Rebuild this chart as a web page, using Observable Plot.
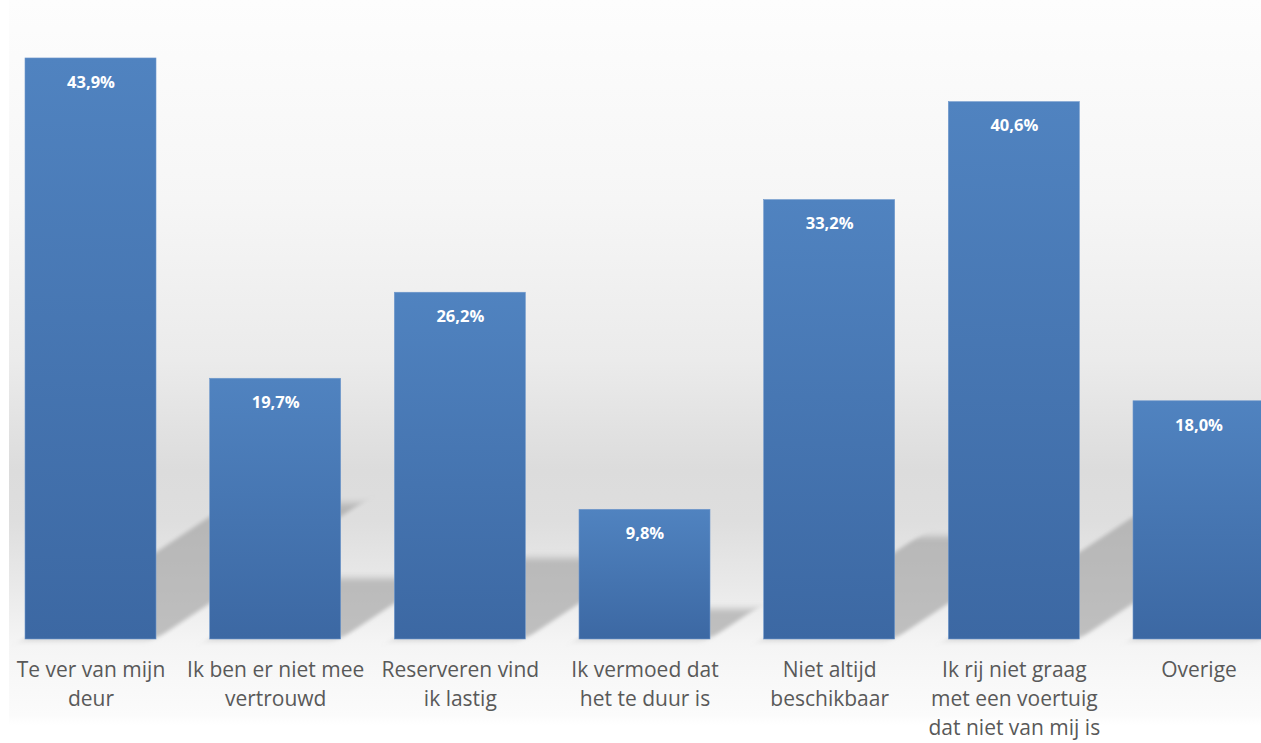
<!DOCTYPE html>
<html>
<head>
<meta charset="utf-8">
<script src="https://cdn.jsdelivr.net/npm/d3@7"></script>
<script src="https://cdn.jsdelivr.net/npm/@observablehq/plot@0.6"></script>
<style>
  html, body { margin: 0; padding: 0; background: #ffffff; }
  #chart { width: 1261px; height: 743px; overflow: hidden; }
</style>
</head>
<body>
<div id="chart"></div>
<script>
const categories = [
  "Te ver van mijn deur",
  "Ik ben er niet mee vertrouwd",
  "Reserveren vind ik lastig",
  "Ik vermoed dat het te duur is",
  "Niet altijd beschikbaar",
  "Ik rij niet graag met een voertuig dat niet van mij is",
  "Overige"
];
const tickLabels = [
  "Te ver van mijn\ndeur",
  "Ik ben er niet mee\nvertrouwd",
  "Reserveren vind\nik lastig",
  "Ik vermoed dat\nhet te duur is",
  "Niet altijd\nbeschikbaar",
  "Ik rij niet graag\nmet een voertuig\ndat niet van mij is",
  "Overige"
];
const values = [43.9, 19.7, 26.2, 9.8, 33.2, 40.6, 18.0];

const data = categories.map((c, i) => ({cat: c, value: values[i], label: tickLabels[i]}));
const fmt = v => d3.format(".1f")(v).replace(".", ",") + "%";

const BASE = 639;
const SHADOW_RATIO = 0.234;
const SKEW = 1.51;

function defsMark() {
  const defs = d3.create("svg:defs");
  const g = defs.append("linearGradient").attr("id", "barGrad")
    .attr("x1", 0).attr("y1", 0).attr("x2", 0).attr("y2", 1);
  g.append("stop").attr("offset", "0%").attr("stop-color", "#5083c0");
  g.append("stop").attr("offset", "100%").attr("stop-color", "#3c68a3");
  const f = defs.append("filter").attr("id", "shadowBlur")
    .attr("x", "-30%").attr("y", "-30%").attr("width", "160%").attr("height", "160%");
  f.append("feGaussianBlur").attr("stdDeviation", 3.5);
  return defs.node();
}

const plot = Plot.plot({
  width: 1261,
  height: 743,
  style: {
    fontFamily: "'Open Sans', Lato, sans-serif",
    background: "linear-gradient(to right, #ffffff 9px, transparent 9px), linear-gradient(to bottom, #fdfdfd 0px, #f6f6f6 200px, #ebebeb 360px, #dcdcdc 470px, #dedede 520px, #e9e9e9 585px, #f5f5f5 645px, #fbfbfb 715px, #ffffff 725px)"
  },
  x: {domain: categories, range: [25, 1264], paddingInner: 0.2906, paddingOuter: 0, round: false, axis: null},
  y: {domain: [0, 48.28], range: [BASE, 0], axis: null},
  marks: [
    defsMark,
    Plot.barY(data, {x: "cat", y: d => d.value * SHADOW_RATIO, fill: "#9c9c9c", fillOpacity: 0.6}),
    Plot.barY(data, {x: "cat", y: "value", fill: "url(#barGrad)", stroke: "#6f98cc", strokeWidth: 0.6}),
    Plot.text(data, {x: "cat", y: "value", text: d => fmt(d.value), dy: 24, fill: "#ffffff", fontWeight: "bold", fontSize: 16.5}),
    Plot.text(data, {x: "cat", y: 0, text: "label", dy: 17, lineAnchor: "top", lineHeight: 1.38, fontSize: 21, fill: "#595959"})
  ]
});

// skew the shadow group to lie diagonally on the floor behind the bars
const rectGroups = plot.querySelectorAll('g[aria-label="bar"], g[aria-label="rect"]');
if (rectGroups.length) {
  const sg = rectGroups[0];
  sg.setAttribute("transform", `matrix(1,0,${-SKEW},1,${SKEW * BASE},0)`);
  sg.setAttribute("filter", "url(#shadowBlur)");
}

document.getElementById("chart").appendChild(plot);
</script>
</body>
</html>
